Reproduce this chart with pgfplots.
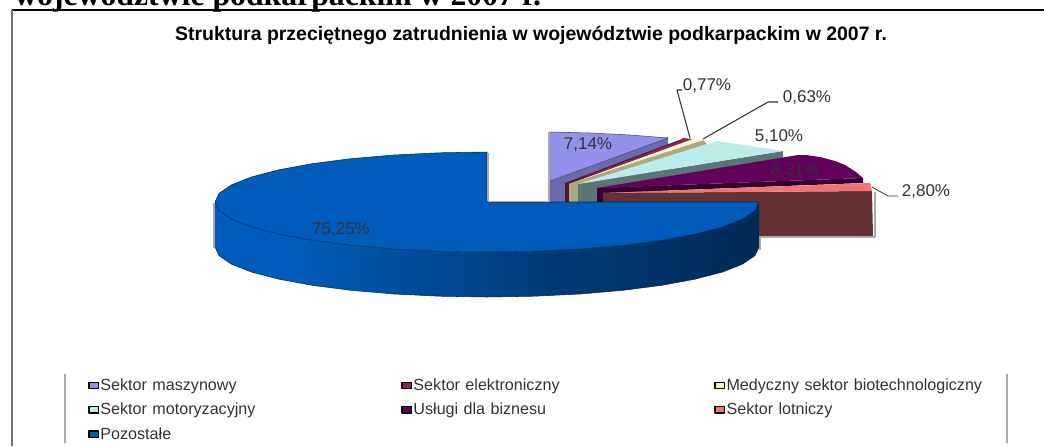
\documentclass[border=0pt]{standalone}
\usepackage{pgfplots}
\pgfplotsset{compat=1.18}
\usepackage{fontspec}
\setmainfont{Liberation Sans}
\newfontfamily\serifbold[BoldFont=Liberation Serif Bold]{Liberation Serif}
\definecolor{lav}{RGB}{146,146,236}
\definecolor{lavside}{RGB}{106,106,172}
\definecolor{mar}{RGB}{135,40,90}
\definecolor{marside}{RGB}{85,20,50}
\definecolor{yel}{RGB}{245,245,200}
\definecolor{yelside}{RGB}{172,168,128}
\definecolor{cya}{RGB}{186,236,236}
\definecolor{cyaside}{RGB}{92,116,116}
\definecolor{pur}{RGB}{98,0,92}
\definecolor{purside}{RGB}{50,0,48}
\definecolor{red1}{RGB}{240,116,116}
\definecolor{redside}{RGB}{100,50,52}
\definecolor{blu}{RGB}{0,92,186}
\definecolor{bluedge}{RGB}{0,40,82}
\definecolor{edge}{RGB}{170,170,170}
\definecolor{lbl}{RGB}{50,50,50}
\pgfdeclarehorizontalshading{bluside}{100bp}{
  color(0bp)=(blu); color(32bp)=(blu); color(55bp)=(blu!65!black);
  color(76bp)=(bluedge); color(100bp)=(bluedge)}
\begin{document}
\begin{tikzpicture}
\useasboundingbox (0,0) rectangle (783pt,334.5pt);
\clip (0,0) rectangle (783pt,334.5pt);
\begin{axis}[
  at={(0,0)}, anchor=south west,
  scale only axis, width=783pt, height=334.5pt,
  xmin=0, xmax=1044, ymin=0, ymax=446, y dir=reverse,
  hide axis, clip=false,
  legend columns=3,
  legend cell align=left,
  legend image code/.code={\draw[#1,draw=black,line width=1.1pt] (0pt,-2.4pt) rectangle (7pt,2.4pt);},
  legend style={at={(axis cs:88,377)}, anchor=north west, draw=none, fill=none,
    inner sep=0pt, font=\fontsize{12.1}{13}\selectfont\color{lbl},
    nodes={text width=224.7pt, align=left, inner sep=1pt},
    /tikz/every even column/.append style={column sep=0pt},
    row sep=6pt},
  every axis plot/.append style={line join=round},
]
% maszynowy
\addplot[forget plot, fill=lavside, draw=none] coordinates {(550,181) (668,137) (668,203) (550,203) (550,181)};
\addplot[fill=lav, draw=lavside!70!black, line width=0.4pt] coordinates {(549,132) (590,133) (630,135) (668,138) (550,181) (549,132)};
% elektroniczny
\addplot[forget plot, fill=marside, draw=none] coordinates {(565,183) (682,139) (694,140) (569,190) (569,203) (565,203) (565,183)};
\addplot[fill=mar, draw=none] coordinates {(566,184) (677,142) (683,138) (693,139) (566,184)};
% medyczny
\addplot[forget plot, fill=yelside, draw=none] coordinates {(569,184) (703,140) (707,144) (578,188) (578,203) (569,203) (569,184)};
\addplot[fill=yel, draw=none] coordinates {(569,184) (693,139) (703,140) (569,184)};
% motoryzacyjny
\addplot[forget plot, fill=cyaside, draw=none] coordinates {(578,184) (783,151) (783,158) (597,188) (597,203) (578,203) (578,184)};
\addplot[fill=cya, draw=none] coordinates {(578,184) (717,141) (783,151) (578,184)};
% uslugi
\addplot[forget plot, fill=purside, draw=none] coordinates {(597,188) (863,178) (863,183) (603,193) (603,203) (597,203) (597,188)};
\addplot[fill=pur, draw=none] coordinates {(597,188) (798,155) (806,155) (820,157) (835,161) (845,165) (856,172) (863,178) (597,188)};
% lotniczy
\addplot[forget plot, fill=redside, draw=none] coordinates {(603,193) (872,191) (873,236) (603,236) (603,193)};
\addplot[forget plot, draw=edge, line width=1.5pt] coordinates {(875,192) (875,237) (760,237)};
\addplot[fill=red1, draw=none] coordinates {(603,193) (870,183) (872,191) (603,193)};
% pozostale: side first, then the top
\addplot[forget plot, draw=edge, line width=1.2pt] coordinates {(760,236) (760,250)};
\addplot[forget plot, shading=bluside, draw=none] coordinates {
  (215,202) (219.1,210.7) (231.4,219.1) (251.4,227) (278.6,234.1) (312.2,240.3) (351,245.3) (394,249) (439.8,251.2) (487,252)
  (534.2,251.2) (580,249) (623,245.3) (661.8,240.3) (695.4,234.1) (722.6,227) (742.6,219.1) (754.9,210.7) (759,202)
  (759,247) (754.9,255.7) (742.6,264.1) (722.6,272) (695.4,279.1) (661.8,285.3) (623,290.3) (580,294) (534.2,296.2) (487,297)
  (439.8,296.2) (394,294) (351,290.3) (312.2,285.3) (278.6,279.1) (251.4,272) (231.4,264.1) (219.1,255.7) (215,247) (215,202)};
\addplot[forget plot, draw=bluedge, line width=0.4pt] coordinates {
  (759,247) (754.9,255.7) (742.6,264.1) (722.6,272) (695.4,279.1) (661.8,285.3) (623,290.3) (580,294) (534.2,296.2) (487,297)
  (439.8,296.2) (394,294) (351,290.3) (312.2,285.3) (278.6,279.1) (251.4,272) (231.4,264.1) (219.1,255.7) (215,247)};
\addplot[fill=blu, draw=bluedge, line width=0.4pt] coordinates {
  (487,152) (487,202) (759,202)
  (754.9,210.7) (742.6,219.1) (722.6,227) (695.4,234.1) (661.8,240.3) (623,245.3) (580,249) (534.2,251.2) (487,252)
  (439.8,251.2) (394,249) (351,245.3) (312.2,240.3) (278.6,234.1) (251.4,227) (231.4,219.1) (219.1,210.7) (215,202)
  (219.1,193.3) (231.4,184.9) (251.4,177) (278.6,169.9) (312.2,163.7) (351,158.7) (394,155) (439.8,152.8) (487,152)};
\addplot[forget plot, draw=edge, line width=1.2pt] coordinates {(488,153) (488,201)};
\addplot[forget plot, draw=edge, line width=1.2pt] coordinates {(549,132) (549,202)};
\addplot[forget plot, draw=edge, line width=1.2pt] coordinates {(214,203) (214,248)};
% leader lines
\addplot[forget plot, draw=black!80, line width=0.8pt] coordinates {(682,90) (677,90) (690,138)};
\addplot[forget plot, draw=black!80, line width=0.8pt] coordinates {(703,139) (768,102) (778,102)};
\addplot[forget plot, draw=black!80, line width=0.6pt] coordinates {(872,187) (888,196) (898,196)};
\legend{Sektor maszynowy, Sektor elektroniczny, Medyczny sektor biotechnologiczny,
  Sektor motoryzacyjny, Usługi dla biznesu, Sektor lotniczy, Pozostałe}
% frame and legend rules
\draw[black, line width=0.8pt] (axis cs:12,10) -- (axis cs:1044,10);
\draw[black!55, line width=1.2pt] (axis cs:12,10) -- (axis cs:12,446);
\draw[edge, line width=2pt] (axis cs:65,374) -- (axis cs:65,443);
\draw[edge, line width=2pt] (axis cs:1007,374) -- (axis cs:1007,443);
% texts
\node[anchor=base west, inner sep=0pt, font=\fontsize{23.8}{26}\selectfont\serifbold\bfseries] at (axis cs:14,5) {województwie podkarpackim w 2007 r.};
\node[inner sep=0pt, font=\fontsize{14.6}{17}\selectfont\bfseries] at (axis cs:531,35) {Struktura przeciętnego zatrudnienia w województwie podkarpackim w 2007 r.};
\begin{scope}[every node/.style={inner sep=0pt, text=lbl, font=\fontsize{12.75}{15}\selectfont}]
\node at (axis cs:341,230) {75,25\%};
\node at (axis cs:588,145) {7,14\%};
\node at (axis cs:707,86) {0,77\%};
\node at (axis cs:807,98) {0,63\%};
\node at (axis cs:779,137) {5,10\%};
\node at (axis cs:795,171) {8,31\%};
\node at (axis cs:926,192) {2,80\%};
\end{scope}
\end{axis}
\end{tikzpicture}
\end{document}
